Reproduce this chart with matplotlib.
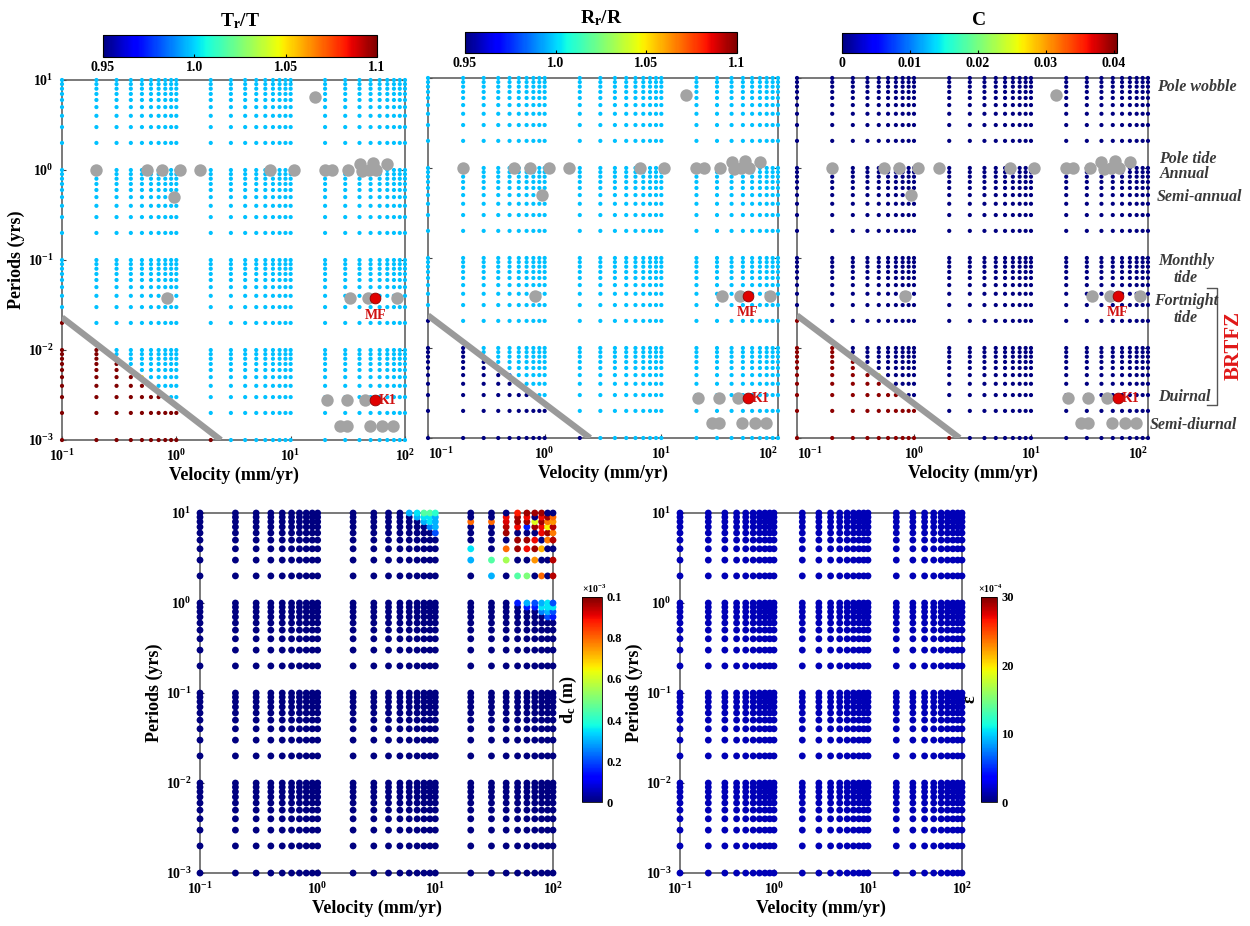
import numpy as np
import matplotlib
matplotlib.use('Agg')
import matplotlib.pyplot as plt
from matplotlib.ticker import FixedLocator, FuncFormatter, NullLocator

plt.rcParams['font.family'] = ['Liberation Serif', 'DejaVu Serif']
plt.rcParams['font.weight'] = 'bold'
plt.rcParams['mathtext.fontset'] = 'custom'
plt.rcParams['mathtext.rm'] = 'Liberation Serif:bold'
plt.rcParams['mathtext.it'] = 'Liberation Serif:italic:bold'
plt.rcParams['mathtext.bf'] = 'Liberation Serif:bold'

# grid of tested velocities (mm/yr) and periods (yrs)
vel = [0.1, 0.2, 0.3, 0.4, 0.5, 0.6, 0.7, 0.8, 0.9, 1,
       2, 3, 4, 5, 6, 7, 8, 9, 10,
       20, 30, 40, 50, 60, 70, 80, 90, 100]
per = [0.001, 0.002, 0.003, 0.004, 0.005, 0.006, 0.007, 0.008, 0.009, 0.01,
       0.02, 0.03, 0.04, 0.05, 0.06, 0.07, 0.08, 0.09, 0.1,
       0.2, 0.3, 0.4, 0.5, 0.6, 0.7, 0.8, 0.9, 1,
       2, 3, 4, 5, 6, 7, 8, 9, 10]

# number of rows (from the bottom) under the grey line, per velocity column
low_rows = [11, 10, 7, 6, 4, 3, 3, 2, 2, 2, 1, 0, 0, 0, 0, 0, 0, 0, 0,
            0, 0, 0, 0, 0, 0, 0, 0, 0]
# points sitting on the grey line
edge_v = [0.3, 0.5, 0.6, 0.8]
edge_p = [0.008, 0.005, 0.004, 0.003]
T_edge = [1.08, 1.05, 1.08, 1.08]
R_edge = [0.97, 0.985, 0.96, 0.96]
C_edge = [0.035, 0.025, 0.035, 0.035]
T_base, T_low = 0.997, 1.1
R_base, R_low = 0.997, 0.95
C_base, C_low = 0.0, 0.04

# grey line (resolution limit)
lim_v = [0.1, 2.45]
lim_p = [0.023, 0.001]

# observed signals (grey) and BRTFZ signals (red)
obs_v = [16.4, 0.2, 0.55, 0.75, 1.08, 1.62, 6.6, 10.6, 20, 23, 32, 40, 42, 48, 52, 56, 70,
         0.95, 0.83, 33, 47, 85, 20.7, 31, 45, 27, 31, 49, 63, 79]
obs_p = [6.5, 1, 1, 1, 1, 1, 1, 1, 1, 1, 1, 1.18, 0.98, 1, 1.2, 1, 1.18,
         0.5, 0.0375, 0.0375, 0.0375, 0.0375, 0.00278, 0.00278, 0.00278,
         0.00145, 0.00145, 0.00145, 0.00145, 0.00145]
brtfz_v = [55, 55]
brtfz_p = [0.0375, 0.00278]
brtfz_lab = ['MF', 'K1']

# d_c (x1e-3 m): non-zero cells, the rest is 0
hot_v = [20, 20, 20, 30, 30, 30,
         40, 40, 40, 40, 40, 40,
         50, 50, 50, 50, 50, 50, 50,
         60, 60, 60, 60, 60, 60, 60,
         70, 70, 70, 70, 70, 70,
         80, 80, 80, 80, 80, 80, 80,
         90, 90, 90, 90, 90,
         100, 100, 100, 100, 100, 100, 100,
         6, 7, 8, 9, 10, 7, 8, 9, 10, 8, 9, 10, 9, 10, 10,
         50, 60, 60, 70, 70, 80, 80, 80, 90, 90, 90, 90, 100, 100, 100, 100]
hot_p = [8, 4, 3, 8, 3, 2,
         9, 8, 7, 6, 4, 3,
         10, 9, 8, 7, 5, 4, 2,
         10, 9, 8, 7, 5, 4, 2,
         10, 8, 7, 5, 4, 3,
         10, 9, 8, 7, 6, 4, 2,
         9, 8, 7, 6, 5,
         9, 8, 7, 6, 5, 3, 2,
         10, 10, 10, 10, 10, 9, 9, 9, 9, 8, 8, 8, 7, 7, 6,
         1, 1, 0.9, 1, 0.9, 1, 0.9, 0.8, 1, 0.9, 0.8, 0.7, 1, 0.9, 0.8, 0.7]
hot_d = [0.8, 0.35, 0.3, 0.8, 0.45, 0.3,
         0.9, 0.92, 0.95, 0.97, 0.8, 0.55,
         0.88, 0.97, 0.97, 0.9, 0.97, 0.97, 0.45,
         0.97, 0.9, 0.97, 0.15, 0.97, 0.9, 0.5,
         0.97, 0.62, 0.97, 0.9, 0.97, 0.75,
         0.97, 0.9, 0.97, 0.9, 0.9, 0.72, 0.8,
         0.97, 0.78, 0.65, 0.97, 0.78,
         0.8, 0.75, 0.95, 0.78, 0.95, 0.95, 0.95,
         0.3, 0.35, 0.45, 0.45, 0.4, 0.3, 0.35, 0.35, 0.3, 0.3, 0.35, 0.3, 0.25, 0.3, 0.2,
         0.15, 0.3, 0.15, 0.2, 0.15, 0.3, 0.35, 0.25, 0.35, 0.35, 0.3, 0.2, 0.2, 0.35, 0.2, 0.15]
eps_base = 1.5  # x1e-4, everywhere

VV, PP = np.meshgrid(vel, per)


def top_values(base, low, edge):
    z = np.full((len(per), len(vel)), base)
    for j, n in enumerate(low_rows):
        z[:n, j] = low
    for v, p, e in zip(edge_v, edge_p, edge):
        z[per.index(p), vel.index(v)] = e
    return z


def dc_values():
    z = np.zeros((len(per), len(vel)))
    for v, p, d in zip(hot_v, hot_p, hot_d):
        z[per.index(p), vel.index(v)] = d
    return z


fmt = FuncFormatter(lambda v, pos: r'$10^{%d}$' % int(round(np.log10(v))))


def grid_axes(rect, ylab=True, squeeze=False):
    ax = fig.add_axes(rect)
    ax.set_xscale('log')
    ax.set_yscale('log')
    ax.set_xlim(0.1, 100)
    ax.set_ylim(0.001, 10)
    ax.xaxis.set_major_locator(FixedLocator([0.1, 1, 10, 100]))
    ax.yaxis.set_major_locator(FixedLocator([0.001, 0.01, 0.1, 1, 10]))
    ax.xaxis.set_minor_locator(NullLocator())
    ax.yaxis.set_minor_locator(NullLocator())
    ax.xaxis.set_major_formatter(fmt)
    ax.yaxis.set_major_formatter(fmt)
    ax.tick_params(direction='in', top=True, right=True, length=3,
                   labelsize=10, pad=6, color='#444')
    for s in ax.spines.values():
        s.set_color('#555555')
        s.set_linewidth(1.1)
    ax.set_xlabel('Velocity (mm/yr)', fontsize=13, fontweight='bold', labelpad=2)
    if ylab:
        ax.set_ylabel('Periods (yrs)', fontsize=13, fontweight='bold', labelpad=2)
    else:
        ax.set_yticklabels([])
    if squeeze:
        # keep neighbouring panels' end labels apart
        labs = ax.get_xticklabels()
        labs[0].set_horizontalalignment('left')
        labs[-1].set_horizontalalignment('right')
    return ax


def dots(ax, z, vmin, vmax, s):
    return ax.scatter(VV.ravel(), PP.ravel(), c=z.ravel(), cmap='jet', vmin=vmin, vmax=vmax,
                      s=s, linewidths=0, clip_on=False, zorder=3)


def signals(ax):
    ax.plot(lim_v, lim_p, color='#9a9a9a', lw=4.5, solid_capstyle='butt', zorder=4)
    ax.scatter(obs_v, obs_p, s=80, color='#a3a3a3', linewidths=0, zorder=5)
    ax.scatter(brtfz_v, brtfz_p, s=60, color='#e00000', edgecolors='#900000',
               linewidths=0.6, zorder=6)
    ax.text(brtfz_v[0], 0.0245, brtfz_lab[0], color='#d01010', fontsize=10,
            fontweight='bold', ha='center', va='center', zorder=7)
    ax.text(brtfz_v[1] * 1.08, brtfz_p[1], brtfz_lab[1], color='#d01010', fontsize=10,
            fontweight='bold', ha='left', va='center', zorder=7)


def hbar(sc, rect, ticks, labels, title):
    cax = fig.add_axes(rect)
    cb = fig.colorbar(sc, cax=cax, orientation='horizontal')
    cb.set_ticks(ticks)
    cb.set_ticklabels(labels)
    cb.outline.set_linewidth(0.8)
    cax.tick_params(labelsize=10, length=2, direction='in', pad=3)
    cax.set_title(title, fontsize=14, fontweight='bold', pad=6)
    return cb


def vbar(sc, rect, ticks, labels, label, scale):
    cax = fig.add_axes(rect)
    cb = fig.colorbar(sc, cax=cax)
    cb.set_ticks(ticks)
    cb.set_ticklabels(labels)
    cb.outline.set_linewidth(0.6)
    cax.tick_params(labelsize=9, length=0, pad=3)
    cax.yaxis.set_label_position('left')
    cax.set_ylabel(label, fontsize=13, fontweight='bold', labelpad=2)
    cax.text(0.6, 1.01, scale, transform=cax.transAxes, ha='center', va='bottom', fontsize=7)
    return cb


fig = plt.figure(figsize=(12.5, 9.26), dpi=100)

# top row
ax1 = grid_axes([0.0496, 0.5248, 0.2744, 0.3888])
sc1 = dots(ax1, top_values(T_base, T_low, T_edge), 0.95, 1.1, 9)
signals(ax1)
hbar(sc1, [0.0824, 0.9384, 0.2192, 0.0238], [0.95, 1.0, 1.05, 1.1],
     ['0.95', '1.0', '1.05', '1.1'], r'T$_\mathregular{r}$/T')

ax2 = grid_axes([0.3424, 0.527, 0.28, 0.3888], ylab=False, squeeze=True)
sc2 = dots(ax2, top_values(R_base, R_low, R_edge), 0.95, 1.1, 9)
signals(ax2)
hbar(sc2, [0.372, 0.9428, 0.2176, 0.0227], [0.95, 1.0, 1.05, 1.1],
     ['0.95', '1.0', '1.05', '1.1'], r'R$_\mathregular{r}$/R')

ax3 = grid_axes([0.6376, 0.527, 0.2808, 0.3888], ylab=False, squeeze=True)
sc3 = dots(ax3, top_values(C_base, C_low, C_edge), 0.0, 0.0405, 9)
signals(ax3)
hbar(sc3, [0.6736, 0.9428, 0.22, 0.0216], [0, 0.01, 0.02, 0.03, 0.04],
     ['0', '0.01', '0.02', '0.03', '0.04'], 'C')

# tide labels on the right of the C panel
tr = ax3.get_yaxis_transform()
right_labels = [('Pole wobble', 7.9, 1.026, 'left'), ('Pole tide', 1.26, 1.03, 'left'),
                ('Annual', 0.86, 1.035, 'left'), ('Semi-annual', 0.48, 1.026, 'left'),
                ('Monthly\ntide', 0.075, 1.108, 'center'), ('Fortnight\ntide', 0.0268, 1.108, 'center'),
                ('Duirnal', 0.00288, 1.03, 'left'), ('Semi-diurnal', 0.00138, 1.005, 'left')]
for txt, yv, xf, ha in right_labels:
    ax3.text(xf, yv, txt, transform=tr, ha=ha, va='center', fontsize=11.5,
             fontstyle='italic', fontweight='bold', color='#3a3a3a', linespacing=1.1)
ax3.plot([1.168, 1.197, 1.197, 1.168], [0.0464, 0.0464, 0.00233, 0.00233], transform=tr,
         color='#555555', lw=1.0, clip_on=False)
ax3.text(1.245, 0.0108, 'BRTFZ', transform=tr, rotation=90, ha='center', va='center',
         fontsize=15, fontweight='bold', color='#e01818')

# bottom row
ax4 = grid_axes([0.16, 0.0572, 0.2824, 0.3888])
sc4 = dots(ax4, dc_values(), 0.0, 1.0, 24)
vbar(sc4, [0.4656, 0.1339, 0.016, 0.2214], [0, 0.2, 0.4, 0.6, 0.8, 1.0],
     ['0', '0.2', '0.4', '0.6', '0.8', '0.1'], r'd$_\mathregular{c}$ (m)', r'$\times10^{-3}$')

ax5 = grid_axes([0.544, 0.0572, 0.2256, 0.3888])
sc5 = dots(ax5, np.full((len(per), len(vel)), eps_base), 0.0, 30.0, 24)
vbar(sc5, [0.7848, 0.1339, 0.0128, 0.2214], [0, 10, 20, 30],
     ['0', '10', '20', '30'], 'ε', r'$\times10^{-4}$')

fig.savefig('out.png', dpi=100)
